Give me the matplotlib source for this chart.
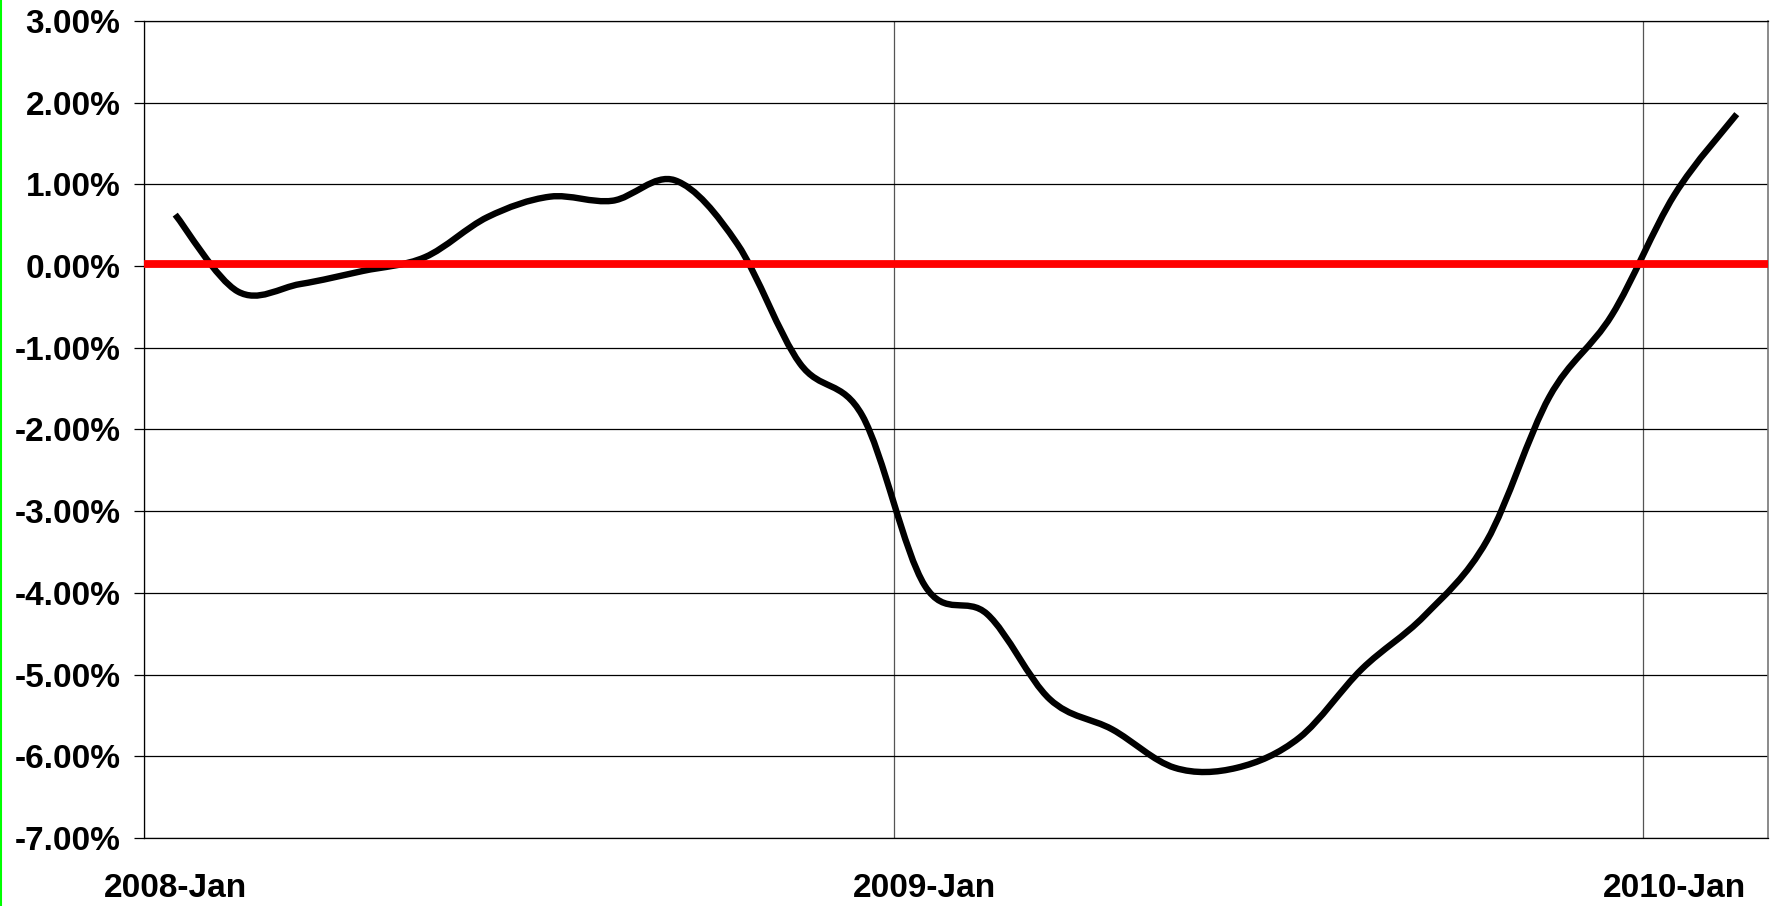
import numpy as np
import matplotlib
matplotlib.use("Agg")
import matplotlib.pyplot as plt
from matplotlib.path import Path
from matplotlib.patches import PathPatch
from matplotlib.lines import Line2D

# monthly values, 2008-Jan .. 2010-Feb, in percent
months = ["2008-Jan", "2008-Feb", "2008-Mar", "2008-Apr", "2008-May", "2008-Jun",
          "2008-Jul", "2008-Aug", "2008-Sep", "2008-Oct", "2008-Nov", "2008-Dec",
          "2009-Jan", "2009-Feb", "2009-Mar", "2009-Apr", "2009-May", "2009-Jun",
          "2009-Jul", "2009-Aug", "2009-Sep", "2009-Oct", "2009-Nov", "2009-Dec",
          "2010-Jan", "2010-Feb"]
values = [0.63, -0.31, -0.22, -0.06, 0.11, 0.60, 0.85, 0.80, 1.05, 0.27,
          -1.19, -1.83, -3.91, -4.26, -5.30, -5.67, -6.14, -6.14, -5.77, -4.93,
          -4.28, -3.36, -1.60, -0.60, 0.87, 1.86]
shown_labels = ["2008-Jan", "2009-Jan", "2010-Jan"]
y_ticks = [3, 2, 1, 0, -1, -2, -3, -4, -5, -6, -7]
zero_line = 0.03

font = "Liberation Sans"
W, H = 1775, 906

fig = plt.figure(figsize=(W / 100, H / 100), dpi=100)
ax = fig.add_axes([144 / W, (H - 838) / H, (1768 - 144) / W, (838 - 21) / H])

n = len(values)
xs = np.arange(n) + 0.5
pts = np.column_stack([xs, values])


# smoothed line like the spreadsheet: cubic bezier through each point
def smooth_path(p):
    verts = [p[0]]
    codes = [Path.MOVETO]
    for i in range(len(p) - 1):
        p_prev = p[max(i - 1, 0)]
        p_next = p[min(i + 2, len(p) - 1)]
        c1 = p[i] + (p[i + 1] - p_prev) / 6.0
        c2 = p[i + 1] - (p_next - p[i]) / 6.0
        verts += [c1, c2, p[i + 1]]
        codes += [Path.CURVE4] * 3
    return Path(verts, codes)


curve = PathPatch(smooth_path(pts), facecolor="none", edgecolor="black",
                  lw=4.6, capstyle="butt", joinstyle="round", zorder=3)
ax.add_patch(curve)
ax.axhline(zero_line, color="#ff0000", lw=5.6, zorder=4)

ax.set_xlim(0, n)
ax.set_ylim(-7, 3)

ax.set_yticks(y_ticks)
ax.set_yticklabels(["%.2f%%" % v for v in y_ticks], fontfamily=font,
                   fontweight="bold", fontsize=24)
ax.yaxis.grid(True, color="black", lw=0.9)
ax.tick_params(axis="y", length=7, width=0.9, pad=10, color="black")

label_pos = [months.index(m) + 0.5 for m in shown_labels]
ax.set_xticks(label_pos)
ax.set_xticklabels(shown_labels, fontfamily=font, fontweight="bold", fontsize=24)
ax.set_xticks([months.index(m) for m in shown_labels], minor=True)
ax.xaxis.grid(True, which="minor", color="#555555", lw=0.9)
ax.tick_params(axis="x", which="both", length=0, pad=25)

for s in ["left", "bottom", "top"]:
    ax.spines[s].set_color("black")
    ax.spines[s].set_linewidth(0.9)
ax.spines["right"].set_color("#777777")
ax.spines["right"].set_linewidth(1.2)
ax.set_axisbelow(True)

# thin green border on the left edge of the image
fig.add_artist(Line2D([0.0008, 0.0008], [0, 1], color="#00ff00", lw=1.5,
                      transform=fig.transFigure))

fig.savefig("out.png", dpi=100)
